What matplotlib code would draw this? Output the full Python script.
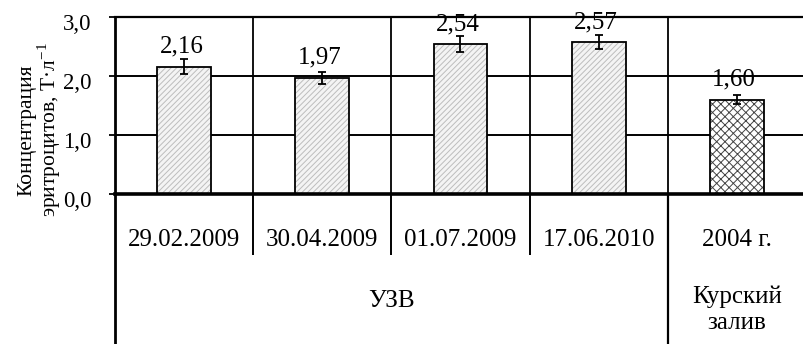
import numpy as np
import matplotlib
matplotlib.use("Agg")
import matplotlib.pyplot as plt
from matplotlib.transforms import offset_copy, IdentityTransform

plt.rcParams["font.family"] = ["Liberation Serif", "DejaVu Serif"]
plt.rcParams["mathtext.fontset"] = "custom"
plt.rcParams["mathtext.rm"] = "Liberation Serif"
plt.rcParams["hatch.linewidth"] = 0.7

# данные
dates = ["29.02.2009", "30.04.2009", "01.07.2009", "17.06.2010", "2004 г."]
values = [2.16, 1.97, 2.54, 2.57, 1.60]
errors = [0.12, 0.10, 0.13, 0.12, 0.08]
value_labels = ["2,16", "1,97", "2,54", "2,57", "1,60"]
groups = ["УЗВ", "Курский\nзалив"]
yticks = [0.0, 1.0, 2.0, 3.0]
ytick_labels = ["0,0", "1,0", "2,0", "3,0"]

W, H = 804, 344
fig = plt.figure(figsize=(W / 100, H / 100), dpi=100)

x = np.arange(len(values))
xlim = (-0.5, len(values) - 0.5)
left_px, right_px, top_px, zero_px = 115, 806, 17, 194

ax = fig.add_axes([left_px / W, (H - zero_px) / H,
                   (right_px - left_px) / W, (zero_px - top_px) / H])
ax.set_xlim(*xlim)
ax.set_ylim(0, 3.0)

# сетка и разделители
for yv in yticks[1:-1]:
    ax.axhline(yv, color="black", lw=1.4, zorder=1)
for xv in x[:-1] + 0.5:
    ax.axvline(xv, color="black", lw=1.3, zorder=1)

w = 0.39
# УЗВ – светлая косая штриховка
ax.bar(x[:4], values[:4], w, color="#f4f4f4", edgecolor="#bdbdbd",
       hatch="//////", lw=0, zorder=2)
ax.bar(x[:4], values[:4], w, fill=False, edgecolor="black", lw=1.3, zorder=3)
# Куршский залив – сетка
ax.bar(x[4:], values[4:], w, color="white", edgecolor="#444444",
       hatch="xxxx", lw=0, zorder=2)
ax.bar(x[4:], values[4:], w, fill=False, edgecolor="black", lw=1.3, zorder=3)

ax.errorbar(x, values, yerr=errors, fmt="none", ecolor="black",
            elinewidth=1.3, capsize=3, capthick=1.3, zorder=4)

lbl_tr = offset_copy(ax.transData, fig=fig, x=0, y=9, units="dots")
for xi, v, s in zip(x, values, value_labels):
    ax.text(xi - 0.02, v, s, transform=lbl_tr, ha="center", va="bottom",
            fontsize=18, zorder=5)

ax.set_xticks([])
ax.set_yticks(yticks)
ax.set_yticklabels(ytick_labels, fontsize=16.5)
ax.tick_params(axis="y", direction="out", length=4, width=1.3, pad=13)
for lab in ax.get_yticklabels():
    lab.set_transform(lab.get_transform() + offset_copy(
        IdentityTransform(), fig=fig, x=0, y=-5, units="dots"))

ax.spines["right"].set_visible(False)
ax.spines["top"].set_linewidth(1.6)
ax.spines["left"].set_linewidth(2.0)
ax.spines["bottom"].set_linewidth(2.6)
ax.spines["bottom"].set_zorder(6)

# таблица подписей под графиком (координата y в пикселях)
tax = fig.add_axes([left_px / W, 0, (right_px - left_px) / W, (H - zero_px) / H])
tax.set_xlim(*xlim)
tax.set_ylim(H, zero_px)
tax.axis("off")
row_split = 255
tax.vlines(x[:3] + 0.5, zero_px, row_split, color="black", lw=1.4)
tax.vlines(3.5, zero_px, H, color="black", lw=1.6)
tax.vlines(-0.5, zero_px, H, color="black", lw=2.0, clip_on=False)
tax.vlines(4.485, 205, H, color="#bbbbbb", lw=1.0)

for xi, d in zip(x, dates):
    tax.text(xi, 240, d, ha="center", va="center", fontsize=18)
tax.text(1.5, 301, groups[0], ha="center", va="center", fontsize=18)
tax.text(4.0, 310, groups[1], ha="center", va="center", fontsize=18,
         linespacing=1.25)

fig.text(40 / W, (H - 130) / H,
         "Концентрация\nэритроцитов, Т·л$^{\\mathregular{-1}}$",
         rotation=90, ha="center", va="center", fontsize=15.5,
         multialignment="center", linespacing=0.95)

fig.savefig("out.png", dpi=100)
